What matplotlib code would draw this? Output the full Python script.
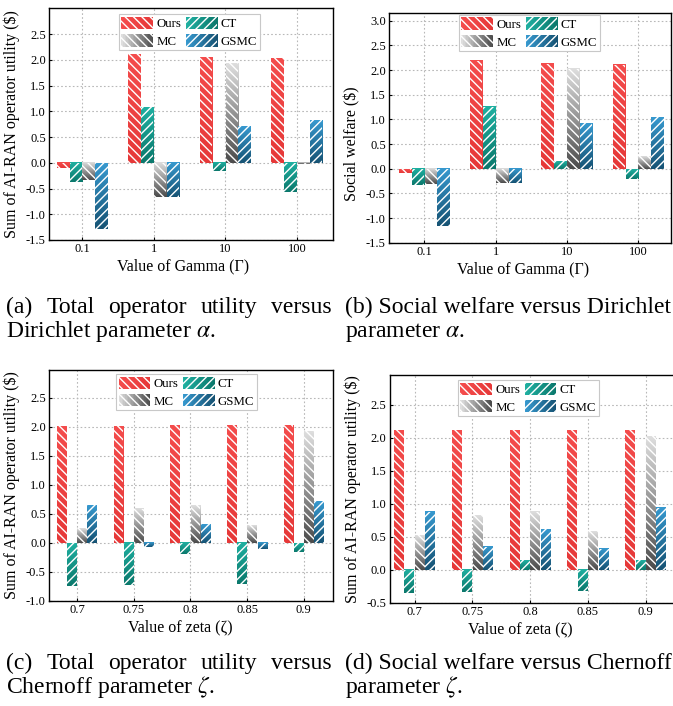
import numpy as np
import matplotlib
matplotlib.use("Agg")
import matplotlib.pyplot as plt
from matplotlib.colors import to_rgb
from matplotlib.patches import Rectangle
from matplotlib.legend_handler import HandlerBase
from matplotlib.ticker import FormatStrFormatter

plt.rcParams["font.family"] = ["Liberation Serif", "DejaVu Serif"]
plt.rcParams["mathtext.fontset"] = "stix"
plt.rcParams["axes.unicode_minus"] = False
plt.rcParams["hatch.linewidth"] = 1.0

W, H = 673, 706

methods = ["Ours", "CT", "MC", "GSMC"]
gamma_labels = ["0.1", "1", "10", "100"]
zeta_labels = ["0.7", "0.75", "0.8", "0.85", "0.9"]

# (a) operator utility vs Gamma
util_gamma_ours = [-0.11, 2.11, 2.05, 2.03]
util_gamma_ct = [-0.38, 1.08, -0.16, -0.57]
util_gamma_mc = [-0.34, -0.67, 1.93, -0.02]
util_gamma_gsmc = [-1.28, -0.67, 0.71, 0.83]

# (b) social welfare vs Gamma
wel_gamma_ours = [-0.08, 2.19, 2.13, 2.11]
wel_gamma_ct = [-0.34, 1.26, 0.155, -0.20]
wel_gamma_mc = [-0.31, -0.30, 2.03, 0.25]
wel_gamma_gsmc = [-1.16, -0.30, 0.93, 1.05]

# (c) operator utility vs zeta
util_zeta_ours = [2.01, 2.01, 2.03, 2.03, 2.03]
util_zeta_ct = [-0.74, -0.73, -0.195, -0.71, -0.155]
util_zeta_mc = [0.25, 0.59, 0.65, 0.30, 1.93]
util_zeta_gsmc = [0.65, -0.075, 0.32, -0.11, 0.72]

# (d) social welfare vs zeta
wel_zeta_ours = [2.11, 2.12, 2.12, 2.12, 2.12]
wel_zeta_ct = [-0.36, -0.34, 0.14, -0.33, 0.15]
wel_zeta_mc = [0.53, 0.83, 0.88, 0.58, 2.03]
wel_zeta_gsmc = [0.88, 0.35, 0.62, 0.32, 0.94]

# light (top/left) -> dark (bottom/right), hatch direction
STYLE = {
    "Ours": ("#f44c4c", "#e63838", "\\\\\\\\"),
    "CT":   ("#1fb0a1", "#0b786c", "////"),
    "MC":   ("#dedede", "#4c4c4c", "\\\\\\\\"),
    "GSMC": ("#3799cf", "#165374", "////"),
}
WIDTH = 0.18


def ramp(c0, c1, n):
    a, b = np.array(to_rgb(c0)), np.array(to_rgb(c1))
    t = np.linspace(0, 1, n)[:, None]
    return a * (1 - t) + b * t


class GradHandler(HandlerBase):
    def __init__(self, c0, c1, hatch):
        super().__init__()
        self.c0, self.c1, self.hatch = c0, c1, hatch

    def create_artists(self, legend, orig_handle, xdescent, ydescent,
                       width, height, fontsize, trans):
        n = 20
        cols = ramp(self.c0, self.c1, n)
        arts = []
        for i in range(n):
            arts.append(Rectangle((-xdescent + i * width / n, -ydescent),
                                  width / n * 1.08, height, facecolor=cols[i],
                                  edgecolor="none", lw=0, transform=trans))
        arts.append(Rectangle((-xdescent, -ydescent), width, height,
                              facecolor="none", edgecolor="white", lw=0,
                              hatch=self.hatch, transform=trans))
        return arts


def draw_panel(ax, labels, series, xlim, ylim, yticks, ylabel, xlabel,
               xlab_x, ylab_y, leg_anchor):
    x = np.arange(len(labels))
    for k, (name, vals) in enumerate(zip(methods, series)):
        c0, c1, hatch = STYLE[name]
        bars = ax.bar(x + (k - 1.5) * WIDTH, vals, WIDTH * 0.96, facecolor="none",
                      edgecolor="white", lw=0, hatch=hatch, zorder=3)
        grad = ramp(c0, c1, 64)[:, None, :]
        for b in bars:
            x0, x1 = b.get_x(), b.get_x() + b.get_width()
            y0, y1 = sorted([b.get_y(), b.get_y() + b.get_height()])
            ax.imshow(grad, extent=(x0, x1, y0, y1), aspect="auto",
                      origin="upper", zorder=2, interpolation="bilinear")
    ax.set_xlim(*xlim)
    ax.set_ylim(*ylim)
    ax.set_xticks(x)
    ax.set_xticklabels(labels)
    ax.set_yticks(yticks)
    ax.yaxis.set_major_formatter(FormatStrFormatter("%.1f"))
    ax.tick_params(direction="in", length=2, labelsize=9, width=0.8, pad=2.5)
    ax.grid(True, linestyle=(0, (1.5, 2)), color="#b8b8b8", lw=0.8)
    ax.set_axisbelow(True)
    for s in ax.spines.values():
        s.set_linewidth(1.0)
    ax.set_ylabel(ylabel, fontsize=11.5, labelpad=4, y=ylab_y)
    ax.set_xlabel(xlabel, fontsize=11.5, labelpad=2, x=xlab_x)

    handles = [Rectangle((0, 0), 1, 1, label=m) for m in ["Ours", "MC", "CT", "GSMC"]]
    hmap = {h: GradHandler(*STYLE[h.get_label()]) for h in handles}
    leg = ax.legend(handles=handles, handler_map=hmap, ncol=2, loc="upper left",
                    bbox_to_anchor=leg_anchor, borderaxespad=0, fontsize=9.3,
                    handlelength=2.45, handleheight=1.1, handletextpad=0.25,
                    columnspacing=0.35, labelspacing=0.3, borderpad=0.2,
                    fancybox=False, framealpha=1, edgecolor="#c8c8c8")
    leg.get_frame().set_linewidth(0.8)
    leg.set_zorder(5)


fig = plt.figure(figsize=(W / 100, H / 100), dpi=100)


def px_axes(l, r, t, b):
    return fig.add_axes([l / W, 1 - b / H, (r - l) / W, (b - t) / H])


ylab_util = "Sum of AI-RAN operator utility (\\$)"
xlab_gamma = "Value of Gamma (Γ)"
xlab_zeta = "Value of zeta (ζ)"

ax_a = px_axes(49.3, 333.3, 8.3, 240)
draw_panel(ax_a, gamma_labels,
           [util_gamma_ours, util_gamma_ct, util_gamma_mc, util_gamma_gsmc],
           (-0.46, 3.51), (-1.5, 3.0), np.arange(-1.5, 2.51, 0.5),
           ylab_util, xlab_gamma, 0.47, 0.5, (0.245, 0.975))

ax_b = px_axes(389.3, 671, 13.3, 242.7)
draw_panel(ax_b, gamma_labels,
           [wel_gamma_ours, wel_gamma_ct, wel_gamma_mc, wel_gamma_gsmc],
           (-0.49, 3.46), (-1.5, 3.15), np.arange(-1.5, 3.01, 0.5),
           "Social welfare (\\$)", xlab_gamma, 0.476, 0.433, (0.247, 0.993))

ax_c = px_axes(49.3, 333.3, 370, 600.7)
draw_panel(ax_c, zeta_labels,
           [util_zeta_ours, util_zeta_ct, util_zeta_mc, util_zeta_gsmc],
           (-0.49, 4.52), (-1.0, 2.98), np.arange(-1.0, 2.51, 0.5),
           ylab_util, xlab_zeta, 0.46, 0.5, (0.235, 0.983))

ax_d = px_axes(389.7, 674.7, 375, 602.7)
draw_panel(ax_d, zeta_labels,
           [wel_zeta_ours, wel_zeta_ct, wel_zeta_mc, wel_zeta_gsmc],
           (-0.43, 4.5), (-0.5, 2.95), np.arange(-0.5, 2.51, 0.5),
           ylab_util, xlab_zeta, 0.46, 0.5, (0.239, 0.978))

# captions (first line of left captions is justified across the column)
CAP = 17
renderer = fig.canvas.get_renderer()


def caption_line(text, x0, y, x1=None):
    if x1 is None:
        fig.text(x0 / W, 1 - y / H, text, fontsize=CAP, va="baseline")
        return
    words = text.split(" ")
    texts = [fig.text(0, 1 - y / H, w, fontsize=CAP, va="baseline") for w in words]
    widths = [t.get_window_extent(renderer).width for t in texts]
    gap = ((x1 - x0) - sum(widths)) / (len(words) - 1)
    x = x0
    for t, w in zip(texts, widths):
        t.set_x(x / W)
        x += w + gap


caption_line("(a) Total operator utility versus", 6, 313, 332)
caption_line("Dirichlet parameter $\\alpha$.", 6, 337)
caption_line("(b) Social welfare versus Dirichlet", 345, 313)
caption_line("parameter $\\alpha$.", 345, 337)
caption_line("(c) Total operator utility versus", 6, 669, 332)
caption_line("Chernoff parameter $\\zeta$.", 6, 693)
caption_line("(d) Social welfare versus Chernoff", 345, 669)
caption_line("parameter $\\zeta$.", 345, 693)

fig.savefig("out.png", dpi=100)
